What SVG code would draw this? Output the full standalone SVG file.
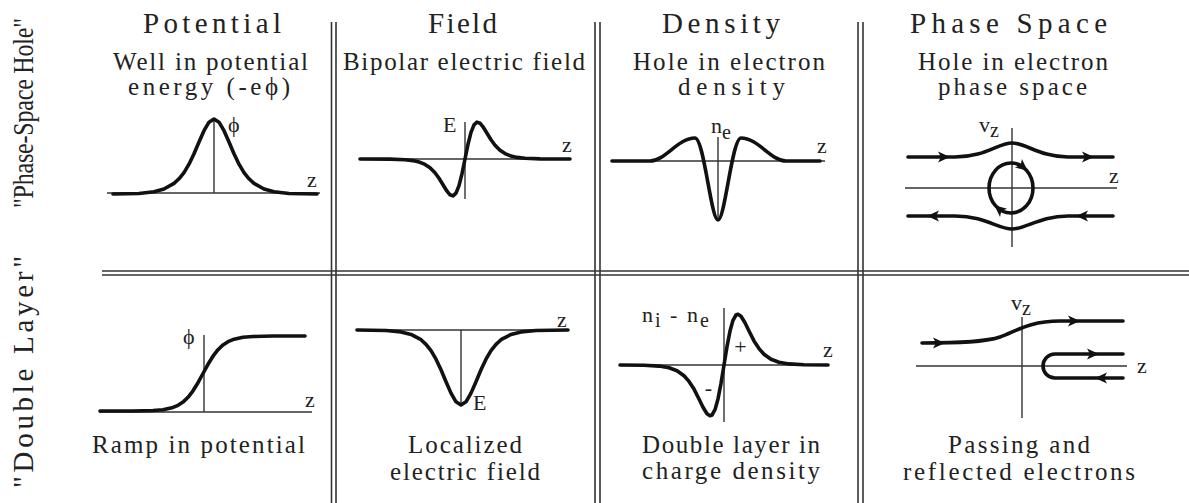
<svg xmlns="http://www.w3.org/2000/svg" xmlns:xlink="http://www.w3.org/1999/xlink" width="1189" height="503" viewBox="0 0 1189 503" font-family="'Liberation Serif', 'DejaVu Serif', serif">
<style>
text{font-family:'Liberation Serif','DejaVu Serif','Times New Roman',serif;fill:#222}
.title{font-size:29px}
.sub{font-size:25px}
.lab{font-size:22px}
.ax{stroke:#333;stroke-width:1.4;fill:none}
.cv{stroke:#111;stroke-width:3.6;fill:none;stroke-linejoin:round;stroke-linecap:round}
.gl{stroke:#333;stroke-width:1.6}
</style>
<defs>
<path id="ah" d="M6,0 L-6,-5.5 L-3,0 L-6,5.5 Z" fill="#111"/>
</defs>
<rect width="1189" height="503" fill="#fff"/>

<g id="grid">
<line class="gl" x1="102" y1="271" x2="1189" y2="271"/>
<line class="gl" x1="102" y1="275" x2="1189" y2="275"/>
<line class="gl" x1="331.5" y1="22" x2="331.5" y2="503"/>
<line class="gl" x1="336" y1="22" x2="336" y2="503"/>
<line class="gl" x1="595" y1="22" x2="595" y2="503"/>
<line class="gl" x1="600" y1="22" x2="600" y2="503"/>
<line class="gl" x1="858" y1="22" x2="858" y2="503"/>
<line class="gl" x1="863" y1="22" x2="863" y2="503"/>
</g>

<g id="row-labels">
<text font-size="24" transform="translate(33,113) rotate(-90) scale(1,1.25)" text-anchor="middle" textLength="190" lengthAdjust="spacing">"Phase-Space Hole"</text>
<text font-size="29" transform="translate(33,372) rotate(-90)" text-anchor="middle" textLength="232" lengthAdjust="spacing">"Double Layer"</text>
</g>

<g id="potential-hole">
<text class="title" x="212" y="33" text-anchor="middle" textLength="138" lengthAdjust="spacing">Potential</text>
<text class="sub" x="210.5" y="70" text-anchor="middle" textLength="195" lengthAdjust="spacing">Well in potential</text>
<text class="sub" x="209" y="95" text-anchor="middle" textLength="162" lengthAdjust="spacing">energy (-eϕ)</text>
<line class="ax" x1="107" y1="193" x2="320" y2="193"/>
<line class="ax" x1="214" y1="119" x2="214" y2="193"/>
<polyline class="cv" points="113,194 139,193.5 154,191.8 164,189 174,183.4 179,178.8 184,172.6 189,164.2 194,153.8 199,142 204,130.7 209,122.2 214,119 219,122.2 224,130.7 229,142 234,153.8 239,164.2 244,172.6 249,178.8 254,183.4 264,189 274,191.8 289,193.5 317,194"/>
<text class="lab" x="228" y="132">ϕ</text>
<text class="lab" x="307" y="187">z</text>
</g>

<g id="field-hole">
<text class="title" x="462.5" y="33" text-anchor="middle" textLength="69" lengthAdjust="spacing">Field</text>
<text class="sub" x="464" y="70" text-anchor="middle" textLength="242" lengthAdjust="spacing">Bipolar electric field</text>
<line class="ax" x1="360" y1="159" x2="570" y2="159"/>
<line class="ax" x1="465" y1="122" x2="465" y2="199"/>
<polyline class="cv" points="360,159 390,159.1 405,159.7 413,160.6 420,162.3 425,164.4 430,167.7 435,172.8 439,178.3 443,184.7 447,191.2 450,194.8 453,195.9 456,193.1 459,185.6 462,173.7 465,159 468,144.3 471,132.4 474,124.9 477,122.1 480,123.2 483,126.8 487,133.3 491,139.7 495,145.2 500,150.3 505,153.6 510,155.7 517,157.4 525,158.3 540,158.9 570,159"/>
<text class="lab" x="443" y="132">E</text>
<text class="lab" x="562" y="152">z</text>
</g>

<g id="density-hole">
<text class="title" x="721" y="33" text-anchor="middle" textLength="118" lengthAdjust="spacing">Density</text>
<text class="sub" x="729" y="70" text-anchor="middle" textLength="192" lengthAdjust="spacing">Hole in electron</text>
<text class="sub" x="731.5" y="95" text-anchor="middle" textLength="107" lengthAdjust="spacing">density</text>
<line class="ax" x1="612" y1="161" x2="825" y2="161"/>
<line class="ax" x1="718" y1="137" x2="718" y2="220"/>
<path class="cv" d="M612,161 L650,161 C665,161 678,138 695,138 C704,138 711,220 718,220 C725,220 732,138 741,138 C758,138 771,161 786,161 L820,161"/>
<text class="lab" x="711" y="133">n<tspan font-size="20" dy="6">e</tspan></text>
<text class="lab" x="817" y="153">z</text>
</g>

<g id="phase-hole">
<text class="title" x="1008.5" y="33" text-anchor="middle" textLength="197" lengthAdjust="spacing">Phase Space</text>
<text class="sub" x="1013" y="70" text-anchor="middle" textLength="190" lengthAdjust="spacing">Hole in electron</text>
<text class="sub" x="1012.5" y="95" text-anchor="middle" textLength="149" lengthAdjust="spacing">phase space</text>
<line class="ax" x1="905" y1="188" x2="1117" y2="188"/>
<line class="ax" x1="1012" y1="128" x2="1012" y2="247"/>
<path class="cv" d="M908,157 L955,157 C985,157 998,143 1012,143 C1026,143 1040,157 1068,157 L1113,157"/>
<path class="cv" d="M908,216 L955,216 C985,216 998,229 1012,229 C1026,229 1040,216 1068,216 L1113,216"/>
<ellipse class="cv" cx="1011" cy="188" rx="22" ry="25"/>
<use xlink:href="#ah" transform="translate(944,157)"/>
<use xlink:href="#ah" transform="translate(1088,157)"/>
<use xlink:href="#ah" transform="translate(933,216) rotate(180)"/>
<use xlink:href="#ah" transform="translate(1082,216) rotate(180)"/>
<use xlink:href="#ah" transform="translate(1023,167) rotate(40)"/>
<use xlink:href="#ah" transform="translate(999,209) rotate(220)"/>
<text class="lab" x="979" y="132">v<tspan font-size="20" dy="5">z</tspan></text>
<text class="lab" x="1109" y="183">z</text>
</g>

<g id="potential-layer">
<line class="ax" x1="99" y1="412" x2="312" y2="412"/>
<line class="ax" x1="204" y1="335" x2="204" y2="412"/>
<polyline class="cv" points="100,411 133,411 153,410.5 163,409.7 173,407.4 178,405.3 183,402.1 188,397.3 193,390.8 198,382.7 203,373.5 208,364.3 213,356.2 218,349.7 223,344.9 228,341.7 233,339.6 243,337.3 253,336.5 273,336 305,336"/>
<text class="lab" x="183" y="344">ϕ</text>
<text class="lab" x="305" y="407">z</text>
<text class="sub" x="198.5" y="453" text-anchor="middle" textLength="213" lengthAdjust="spacing">Ramp in potential</text>
</g>

<g id="field-layer">
<line class="ax" x1="357" y1="330" x2="568" y2="330"/>
<line class="ax" x1="461" y1="330" x2="461" y2="405"/>
<polyline class="cv" points="357,330 386,330.5 401,331.9 411,334.4 421,339.7 426,344.4 431,350.7 436,359.2 441,369.7 446,381.7 451,393.1 456,401.8 461,405 466,401.8 471,393.1 476,381.7 481,369.7 486,359.2 491,350.7 496,344.4 501,339.7 511,334.4 521,331.9 536,330.5 568,330"/>
<text class="lab" x="473" y="410">E</text>
<text class="lab" x="557" y="327">z</text>
<text class="sub" x="465" y="453" text-anchor="middle" textLength="114" lengthAdjust="spacing">Localized</text>
<text class="sub" x="465" y="480" text-anchor="middle" textLength="150" lengthAdjust="spacing">electric field</text>
</g>

<g id="density-layer">
<line class="ax" x1="620" y1="365" x2="828" y2="365"/>
<line class="ax" x1="724" y1="308" x2="724" y2="422"/>
<polyline class="cv" points="620,365 644,365.3 659,366.1 669,367.8 677,370.7 684,375.8 689,381.4 694,389.1 699,399 703,407.2 707,413.8 710,415.8 712,415 715,409.7 718,398.9 721,383.4 724,365 727,346.6 730,331.1 733,320.3 736,315 738,314.2 741,316.2 745,322.8 749,331 754,340.9 759,348.6 764,354.2 771,359.3 779,362.2 789,363.9 804,364.7 828,365"/>
<text class="lab" x="642" y="322" letter-spacing="2">n<tspan font-size="20" dy="5">i</tspan><tspan dy="-5"> - n</tspan><tspan font-size="20" dy="5">e</tspan></text>
<text class="lab" x="740.5" y="354" text-anchor="middle">+</text>
<text class="lab" x="708.5" y="395" text-anchor="middle">-</text>
<text class="lab" x="823" y="357">z</text>
<text class="sub" x="731" y="453" text-anchor="middle" textLength="178" lengthAdjust="spacing">Double layer in</text>
<text class="sub" x="731" y="479" text-anchor="middle" textLength="178" lengthAdjust="spacing">charge density</text>
</g>

<g id="phase-layer">
<line class="ax" x1="916" y1="366" x2="1127" y2="366"/>
<line class="ax" x1="1022" y1="317" x2="1022" y2="418"/>
<path class="cv" d="M922,343 C960,343 985,342 1000,337 C1015,332 1028,321 1060,321 L1123,321"/>
<path class="cv" d="M1123,354 L1055,354 A12,12 0 0 0 1055,378 L1123,378"/>
<use xlink:href="#ah" transform="translate(939,343)"/>
<use xlink:href="#ah" transform="translate(1074,321)"/>
<use xlink:href="#ah" transform="translate(1093,354)"/>
<use xlink:href="#ah" transform="translate(1101,378) rotate(180)"/>
<text class="lab" x="1011" y="310">v<tspan font-size="20" dy="5">z</tspan></text>
<text class="lab" x="1137" y="373">z</text>
<text class="sub" x="1019" y="453" text-anchor="middle" textLength="142" lengthAdjust="spacing">Passing and</text>
<text class="sub" x="1019" y="480" text-anchor="middle" textLength="232" lengthAdjust="spacing">reflected electrons</text>
</g>
</svg>
